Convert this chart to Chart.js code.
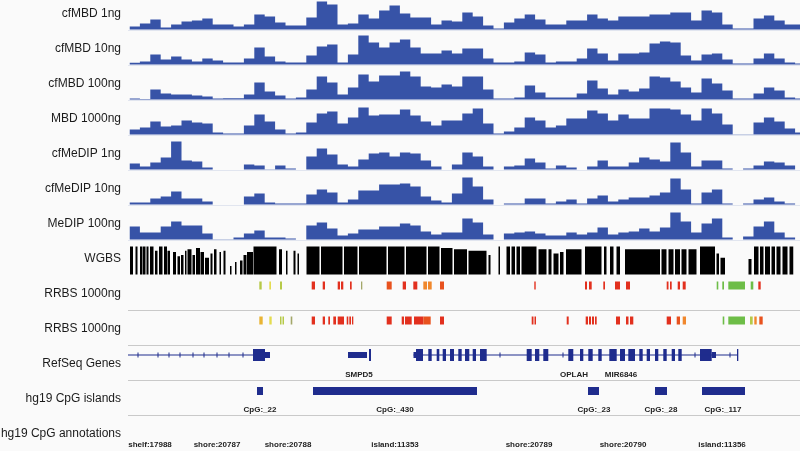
<!DOCTYPE html>
<html><head><meta charset="utf-8">
<script src="https://cdn.jsdelivr.net/npm/chart.js@4/dist/chart.umd.min.js"></script>
<style>html,body{margin:0;padding:0;background:#fafafa;}#wrap{width:800px;height:451px;}</style>
</head><body><div id="wrap"><canvas id="c" width="800" height="451"></canvas></div>
<script>
// ---- genomic window (kb) ----
const POS_MIN = 0, POS_MAX = 67.2;
const COV_START = 0.15, COV_BIN = 1.04;

// ---- track names ----
const TRACK_NAMES = ['cfMBD 1ng','cfMBD 10ng','cfMBD 100ng','MBD 1000ng','cfMeDIP 1ng','cfMeDIP 10ng','MeDIP 100ng','WGBS','RRBS 1000ng','RRBS 1000ng','RefSeq Genes','hg19 CpG islands','hg19 CpG annotations'];

// ---- coverage (per bin) ----
const cfMBD_1ng = [3,6,10,2,5,8,9,11,5,5,3,5,15,13,7,4,4,12,28,25,5,6,15,11,19,24,16,12,12,5,9,8,17,13,4,1,7,11,15,10,5,5,9,9,15,11,9,13,13,13,15,15,17,17,9,19,17,5,1,1,11,14,9,5,5];
const cfMBD_10ng = [1.7,3,10,5,8,5,3,6,4,2,2,6,17,8,3,2,2,9,18,20,2,10,29,22,17,22,25,17,11,11,14,11,16,16,6,2,2,3,12,10,2,3,3,6,16,11,4,11,11,12,21,23,22,9,4,10,11,5,1,1,6,11,6,2,1];
const cfMBD_100ng = [1,0.5,10,6,5,5,4,3,1,1.3,1.3,5,17,8,4,1,2,10,23,17,5,12,25,18,24,24,28,23,13,12,15,13,23,23,10,1,1,2,14,7,2,2,2,6,19,11,5,10,8,11,23,22,18,12,7,21,16,9,1,1,6,12,9,2,1];
const MBD_1000ng = [5,7,13,8,9,14,12,11,2,1,1,9,20,13,5,1,2,12,21,23,11,17,27,19,20,20,25,19,13,9,14,14,21,26,11,1,3,7,17,14,7,9,16,16,24,21,14,20,16,16,26,26,25,20,14,26,21,10,0.3,0.3,12,17,13,6,2];
const cfMeDIP_1ng = [6,3,7,12,28,9,8,2,0,0,0,5,4,0.3,4,1,0,13,21,15,5,3,10,16,17,13,17,16,9,3,0,5,17,13,3,0,3,4,11,7,1,4,2,0,3,9,3,3,7,12,10,8,27,17,3,9,9,1,0,1,4,8,7,4,0];
const cfMeDIP_10ng = [2,2,6,8,13,6,6,3,0,0,0,8,11,2,1,1,1,10,15,12,2,5,14,14,20,20,21,18,8,4,2,11,27,18,5,0,1,1,6,6,1,3,5,1,6,9,3,5,7,7,9,12,26,15,1,12,15,1,0,1,5,7,3,1,0];
const MeDIP_100ng = [13,7,7,13,18,14,14,6,0.3,0.3,2,6,9,2,2,1,0,14,17,11,4,6,10,10,13,13,16,14,8,5,7,7,21,17,5,0,6,7,8,6,4,4,7,5,7,12,5,7,8,11,8,12,27,18,7,16,21,2,0,3,13,18,7,2,0];

// ---- WGBS methylation blocks [start kb, end kb, level 0..1] ----
const WGBS = [[0.2,0.5,1],[0.75,0.95,1],[1.2,1.45,1],[1.5,1.75,1],[1.85,2.05,1],[2.2,2.55,1],[2.7,2.95,0.85],[3.1,3.45,1],[3.6,3.9,1],[3.95,4.2,0.85],[4.5,4.8,0.8],[4.95,5.2,0.65],[5.3,5.55,0.7],[5.7,5.85,0.85],[5.95,6.35,0.9],[6.45,6.7,0.7],[6.8,7.2,0.95],[7.25,7.6,0.8],[7.7,8.1,0.6],[8.25,8.45,0.75],[8.6,8.85,0.9],[9.15,9.3,0.8],[9.55,9.75,0.85],[10.2,10.35,0.3],[10.7,10.85,0.45],[11.2,11.45,0.5],[11.55,11.85,0.7],[11.9,12.5,0.8],[12.55,14.85,1],[15.1,15.4,0.9],[15.8,15.95,0.85],[16.55,16.75,0.85],[16.95,17.1,0.75],[17.85,19.15,1],[19.3,21.45,1],[21.6,22.95,1],[23.1,25.85,1],[26.0,27.65,1],[27.8,29.85,1],[30.0,31.15,1],[31.3,32.45,0.95],[32.6,33.9,0.9],[34.05,35.85,0.85],[36.05,36.25,0.7],[37.05,37.2,1],[37.85,38.2,1],[38.35,38.7,1],[38.85,39.2,1],[39.35,40.85,1],[41.05,41.85,0.9],[42.05,42.35,0.9],[42.55,43.05,0.75],[43.2,43.55,0.8],[43.8,45.35,0.9],[45.7,47.35,1],[47.6,47.85,1],[48.2,48.55,1],[48.85,49.2,1],[49.7,53.2,0.9],[53.35,53.85,0.9],[54.05,54.55,0.9],[54.7,55.2,0.9],[55.35,55.85,0.9],[56.05,56.85,0.9],[57.2,58.7,1],[58.85,59.1,0.75],[59.25,59.7,0.6],[62.05,62.35,0.55],[62.6,63.05,1],[63.2,63.55,1],[63.7,64.2,1],[64.35,64.7,1],[64.85,65.25,1],[65.45,65.95,1],[66.15,66.55,1]];

// ---- RRBS calls [start kb, end kb, colour class] ----
const RRBS_A = [[13.13,13.37,'yg'],[14.13,14.3,'y'],[15.2,15.4,'yg'],[18.37,18.7,'r'],[19.47,19.7,'r'],[20.97,21.2,'r'],[21.3,21.53,'r'],[22.2,22.37,'r'],[23.3,23.43,'ol'],[25.87,26.37,'ro'],[27.47,27.8,'r'],[28.53,28.93,'r'],[29.53,29.9,'o'],[30.0,30.37,'o'],[31.2,31.6,'ro'],[40.63,40.77,'r'],[45.7,45.9,'r'],[46.1,46.37,'r'],[47.53,47.7,'r'],[48.7,49.2,'r'],[49.8,50.2,'r'],[53.87,54.05,'r'],[54.2,54.37,'r'],[54.97,55.2,'r'],[55.47,55.77,'r'],[58.87,59.03,'g'],[59.43,59.6,'g'],[60.03,61.7,'g'],[62.27,62.53,'g'],[63.03,63.27,'r']];
const RRBS_B = [[13.13,13.47,'yo'],[14.13,14.37,'y'],[15.2,15.35,'yg'],[15.45,15.6,'yg'],[16.27,16.43,'ol'],[18.37,18.7,'r'],[19.47,19.7,'r'],[20.03,20.2,'r'],[20.53,20.8,'r'],[20.97,21.6,'r'],[21.87,22.03,'r'],[22.13,22.3,'r'],[22.4,22.53,'r'],[25.87,26.37,'r'],[27.37,27.6,'r'],[27.7,28.37,'r'],[28.6,29.53,'r'],[29.53,30.27,'ro'],[31.2,31.6,'r'],[40.37,40.55,'r'],[40.65,40.8,'r'],[43.87,44.07,'r'],[45.77,46.0,'r'],[46.1,46.3,'r'],[46.4,46.6,'r'],[46.7,46.87,'r'],[48.8,49.2,'r'],[49.8,50.05,'r'],[50.2,50.53,'r'],[53.87,54.3,'r'],[54.87,55.2,'ro'],[55.47,55.8,'o'],[59.47,59.63,'g'],[60.03,61.7,'g'],[62.2,62.47,'yg'],[62.63,62.87,'o'],[63.13,63.47,'ro']];
const RRBS_COLORS = {r:'#e2301e', ro:'#e8521e', o:'#f0872c', yo:'#e9b434', y:'#e4dc50', yg:'#b6c948', ol:'#a3a76a', g:'#6dbd47'};

// ---- RefSeq genes ----
const GENE_LINES = [[0,12.5],[28.55,61.0]];
const GENE_ARROWS = [1.0,3.0,4.1,5.2,6.5,7.6,8.9,10.1,11.5,37.2,43.5,56.7,60.2];
const EXONS = [[12.5,13.7],[24.1,24.3],[28.8,29.5],[30.03,30.37],[30.87,31.13],[31.47,31.8],[32.2,32.6],[33.03,33.37],[33.7,34.13],[34.47,34.8],[35.2,35.87],[39.87,40.37],[40.7,41.13],[41.53,42.03],[44.03,44.53],[45.2,45.53],[46.03,46.47],[47.03,47.37],[48.13,48.87],[49.2,49.7],[50.03,50.7],[51.13,51.47],[51.87,52.2],[52.7,53.03],[53.53,53.87],[54.37,54.7],[55.03,55.37],[57.2,58.37],[60.9,61.03]];
const UTRS = [[13.7,14.2],[22.0,23.9],[28.55,28.85],[58.37,58.8]];
const GENE_NAMES = ['SMPD5','OPLAH','MIR6846'];
const GENE_NAME_POS = [23.1,44.6,49.3];

// ---- CpG islands / annotations ----
const CPG_ISLANDS = [[12.9,13.5],[18.5,34.9],[46.0,47.1],[52.7,53.9],[57.4,61.7]];
const CPG_NAMES = ['CpG:_22','CpG:_430','CpG:_23','CpG:_28','CpG:_117'];
const CPG_NAME_POS = [13.2,26.7,46.6,53.3,59.5];
const ANNOT_NAMES = ['shelf:17988','shore:20787','shore:20788','island:11353','shore:20789','shore:20790','island:11356'];
const ANNOT_POS = [2.2,8.9,16.0,26.7,40.1,49.5,59.4];

// ---- styling / layout ----
const COV_BLUE = '#3753a7', NAVY = '#1f2c8d';
const TRACK_H = 35, TOP_CUT = 4, BASE_OFF = 1.5, LABEL_Y = 16;
const LABEL_FONT = '"Liberation Sans", Arial, sans-serif';
const COVERAGE = [cfMBD_1ng, cfMBD_10ng, cfMBD_100ng, MBD_1000ng, cfMeDIP_1ng, cfMeDIP_10ng, MeDIP_100ng];
const UNIT = TRACK_NAMES.map((n, k) => k === 7 ? 28 : 1);   // px per data unit on each track

const scales = { x: { type:'linear', min:POS_MIN, max:POS_MAX, display:false } };
for (let k = TRACK_NAMES.length - 1; k >= 0; k--) {
  const h = k === 0 ? TRACK_H - TOP_CUT : TRACK_H;
  const u = UNIT[k];
  const name = TRACK_NAMES[k];
  scales['y' + k] = {
    type:'linear', position:'left', stack:'tracks', stackWeight:h,
    min:-BASE_OFF / u, max:(h - BASE_OFF) / u,
    grid:{display:false, drawTicks:false}, border:{display:false},
    afterBuildTicks: ax => { ax.ticks = [{ value: LABEL_Y / u }]; },
    afterFit: ax => { ax.width = 128; ax.paddingTop = 0; ax.paddingBottom = 0; ax.paddingLeft = 0; ax.paddingRight = 0; },
    ticks:{ autoSkip:false, padding:7, color:'#1b1b1b', font:{family:LABEL_FONT, size:12}, callback: () => name }
  };
}

const datasets = [];
COVERAGE.forEach((vals, k) => {
  const pts = vals.map((v, i) => ({ x: COV_START + i * COV_BIN, y: v }));
  pts.push({ x: COV_START + vals.length * COV_BIN, y: vals[vals.length - 1] });
  datasets.push({ type:'line', yAxisID:'y' + k, data:pts, stepped:true, fill:'origin',
    backgroundColor:COV_BLUE, borderColor:'rgba(0,0,0,0)', borderWidth:0, pointRadius:0 });
});
// WGBS
const wPts = [{ x: POS_MIN, y: 0 }];
WGBS.forEach(b => { wPts.push({ x:b[0], y:b[2] }, { x:b[1], y:0 }); });
datasets.push({ type:'line', yAxisID:'y7', data:wPts, stepped:true, fill:'origin',
  backgroundColor:'#000', borderColor:'rgba(0,0,0,0)', borderWidth:0, pointRadius:0 });

function intervals(list, row) {
  const pts = [];
  list.forEach(iv => { pts.push({ x:iv[0], y:row }, { x:iv[1], y:row }, { x:iv[1], y:null }); });
  return pts;
}
const RRBS_ROW = 24;
[[RRBS_A, 'y8'], [RRBS_B, 'y9']].forEach(([list, ax]) => {
  datasets.push({ type:'line', yAxisID:ax, data:intervals(list, RRBS_ROW), borderWidth:8, borderCapStyle:'butt',
    pointRadius:0, fill:false, spanGaps:false, borderColor:'#e2301e',
    segment:{ borderColor: c => RRBS_COLORS[list[Math.floor(c.p0DataIndex / 3)][2]] } });
});
const GENE_ROW = 24.5, NAME_ROW = 4.5;
datasets.push({ type:'line', yAxisID:'y10', data:intervals(GENE_LINES, GENE_ROW), borderWidth:1, borderColor:NAVY, pointRadius:0, fill:false, spanGaps:false });
datasets.push({ type:'line', yAxisID:'y10', data:intervals(UTRS, GENE_ROW), borderWidth:6, borderCapStyle:'butt', borderColor:NAVY, pointRadius:0, fill:false, spanGaps:false });
datasets.push({ type:'line', yAxisID:'y10', data:intervals(EXONS, GENE_ROW), borderWidth:12, borderCapStyle:'butt', borderColor:NAVY, pointRadius:0, fill:false, spanGaps:false });
datasets.push({ type:'line', yAxisID:'y10', data:GENE_ARROWS.map(x => ({ x, y:GENE_ROW })), showLine:false,
  pointStyle:'line', rotation:90, pointRadius:2.5, borderColor:NAVY, borderWidth:1, backgroundColor:NAVY });
datasets.push({ type:'line', yAxisID:'y10', data:GENE_NAME_POS.map(x => ({ x, y:NAME_ROW })), showLine:false, pointRadius:0, texts:GENE_NAMES });
datasets.push({ type:'line', yAxisID:'y11', data:intervals(CPG_ISLANDS, 23.5), borderWidth:8, borderCapStyle:'butt', borderColor:NAVY, pointRadius:0, fill:false, spanGaps:false });
datasets.push({ type:'line', yAxisID:'y11', data:CPG_NAME_POS.map(x => ({ x, y:NAME_ROW })), showLine:false, pointRadius:0, texts:CPG_NAMES });
datasets.push({ type:'line', yAxisID:'y12', data:ANNOT_POS.map(x => ({ x, y:NAME_ROW })), showLine:false, pointRadius:0, texts:ANNOT_NAMES });

const decor = {
  id:'decor',
  beforeDraw(chart) {
    const { ctx, width, height } = chart;
    ctx.save(); ctx.fillStyle = '#fafafa'; ctx.fillRect(0, 0, width, height); ctx.restore();
  },
  beforeDatasetsDraw(chart) {
    const { ctx, chartArea } = chart;
    ctx.save();
    for (let k = 0; k < TRACK_NAMES.length - 1; k++) {
      const s = chart.scales['y' + k];
      ctx.fillStyle = k < 7 ? '#e1e5ef' : (k === 7 ? 'rgba(0,0,0,0)' : '#c9c9c9');
      ctx.fillRect(chartArea.left, Math.round(s.bottom) - 1, chartArea.right - chartArea.left, 1);
    }
    ctx.restore();
  },
  afterDatasetsDraw(chart) {
    const ctx = chart.ctx;
    chart.data.datasets.forEach((ds, i) => {
      if (!ds.texts) return;
      const meta = chart.getDatasetMeta(i);
      ctx.save();
      ctx.font = 'bold 8px ' + LABEL_FONT;
      ctx.fillStyle = '#222';
      ctx.textAlign = 'center'; ctx.textBaseline = 'middle';
      meta.data.forEach((pt, j) => ctx.fillText(ds.texts[j], pt.x, pt.y));
      ctx.restore();
    });
  }
};

new Chart(document.getElementById('c'), {
  type:'line',
  data:{ datasets },
  options:{
    responsive:false, animation:false, events:[],
    layout:{ padding:0, autoPadding:false },
    plugins:{ legend:{display:false}, tooltip:{enabled:false}, title:{display:false} },
    scales
  },
  plugins:[decor]
});
</script>
</body></html>
